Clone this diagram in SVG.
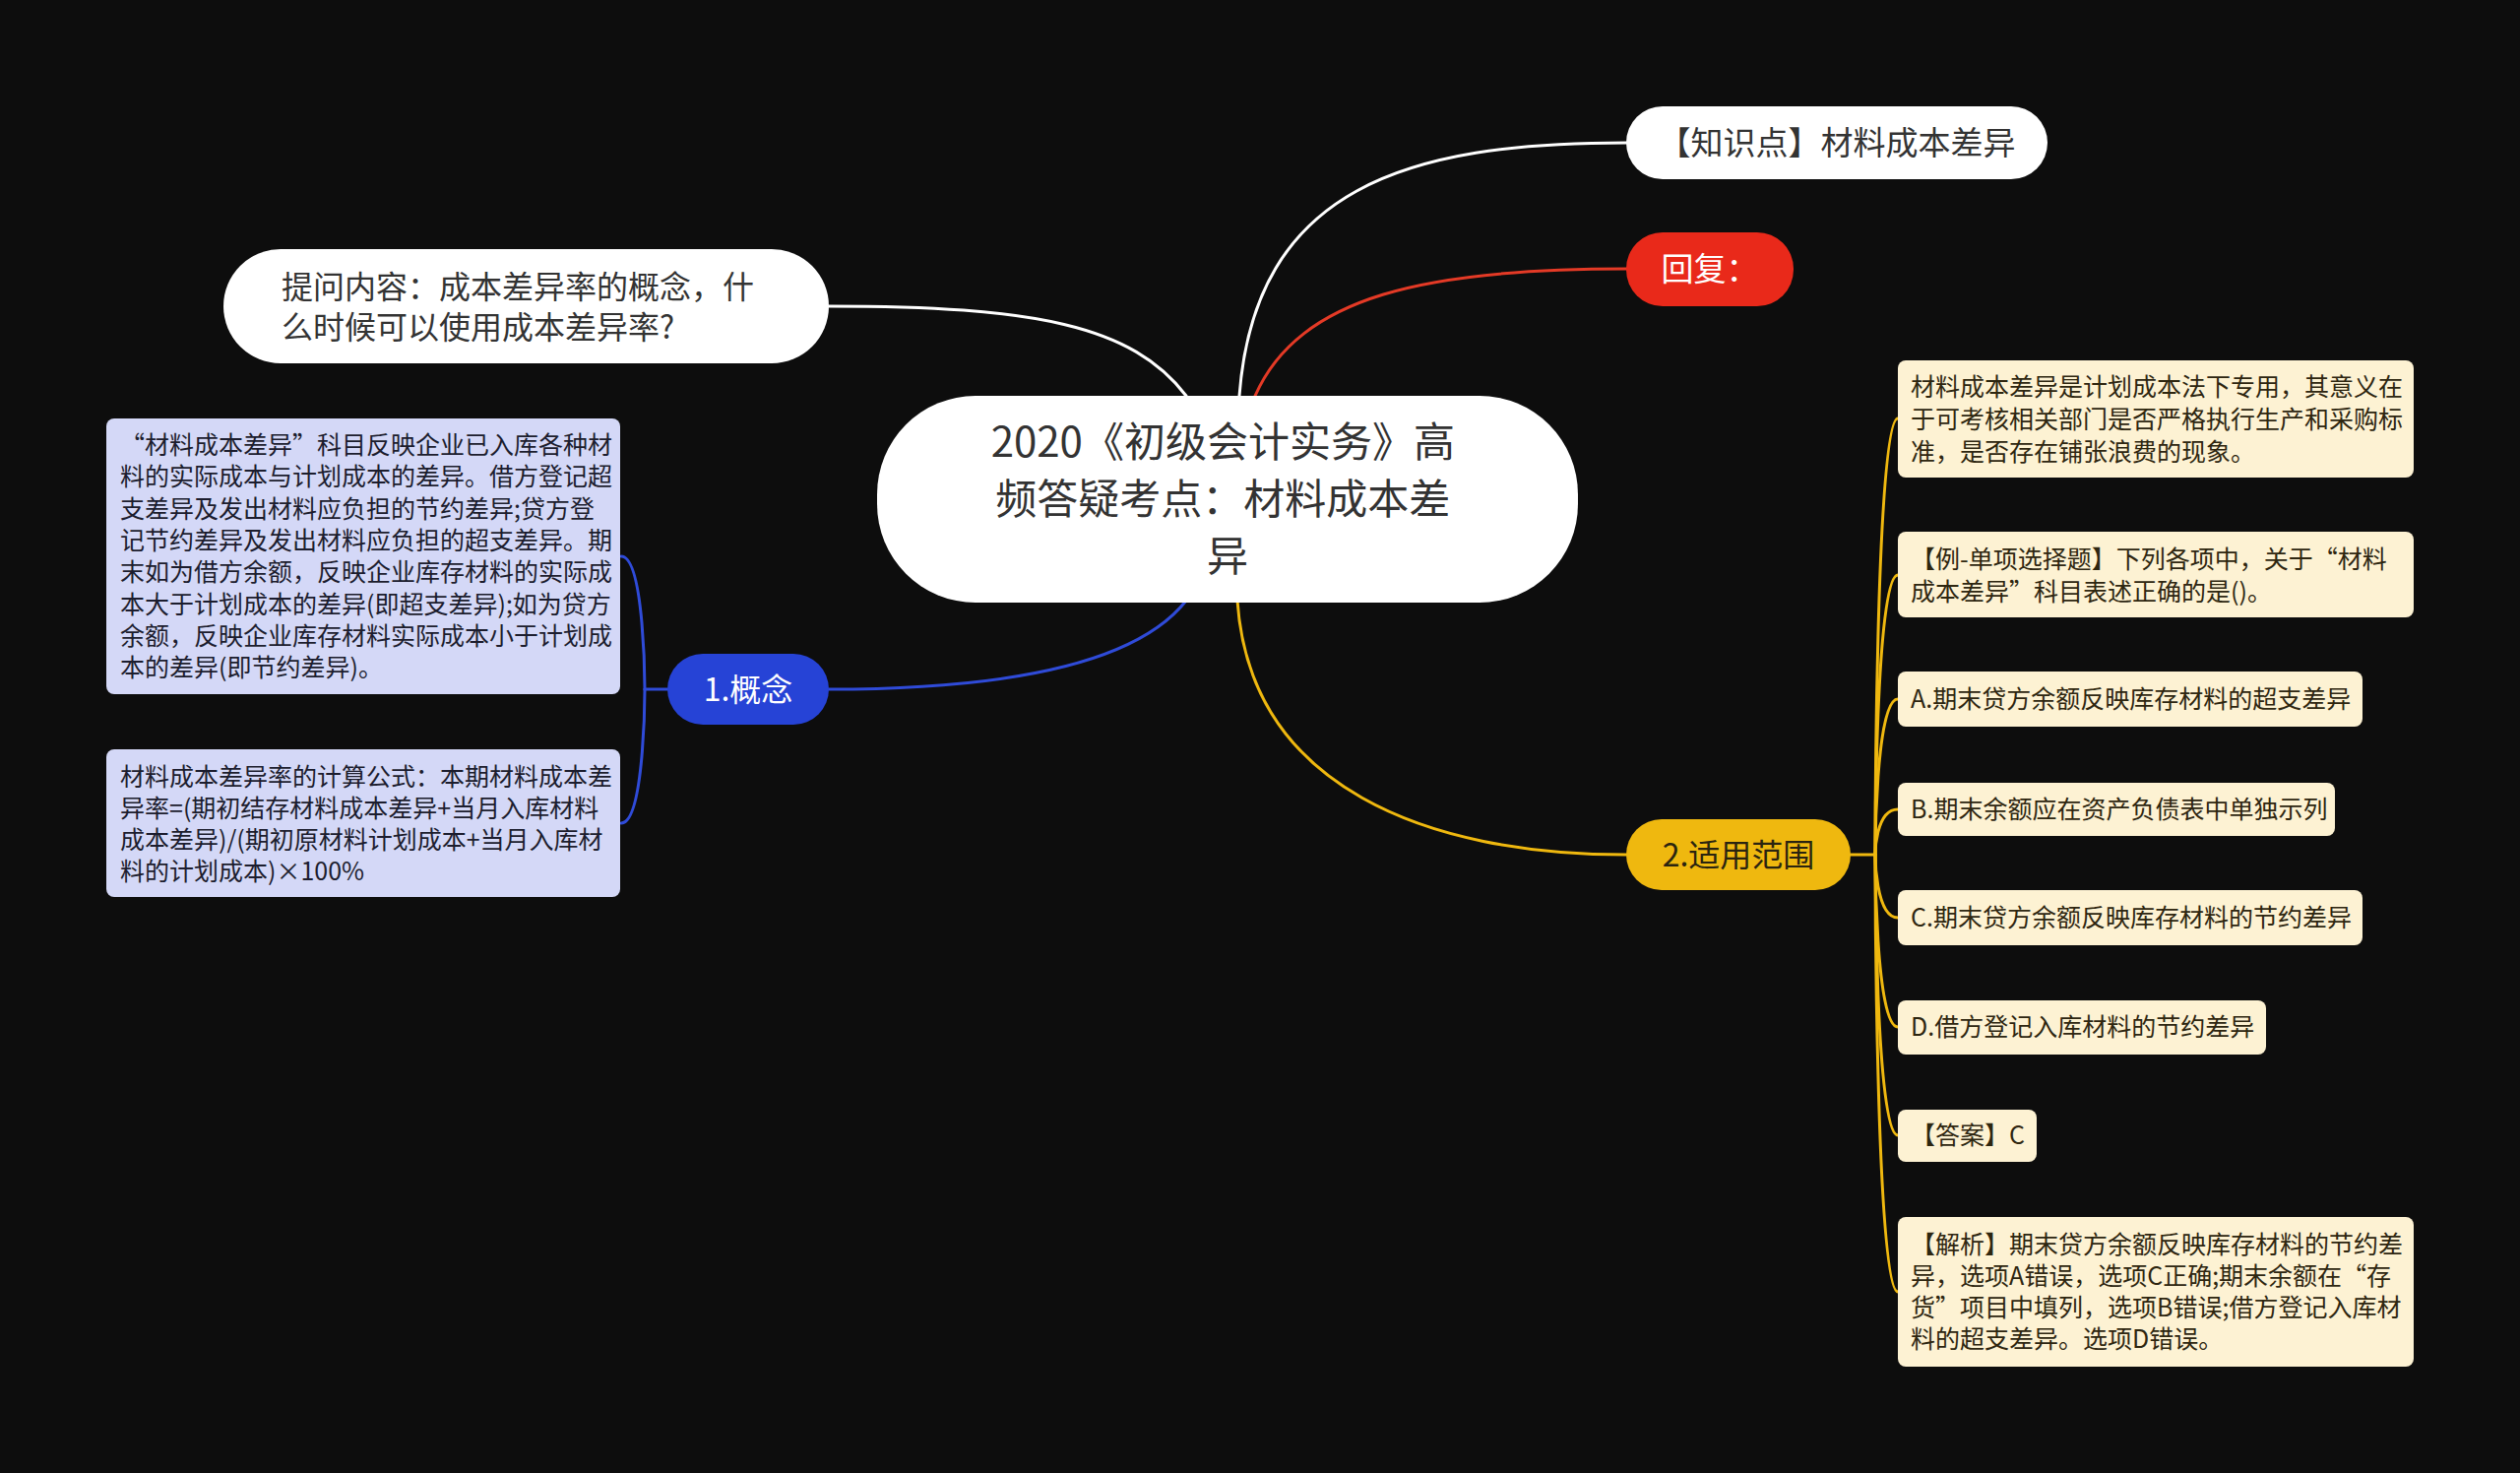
<svg xmlns="http://www.w3.org/2000/svg" width="2560" height="1496" viewBox="0 0 2560 1496">
<style>
text{font-family:"Noto Sans CJK SC","Noto Sans",sans-serif}
.c{fill:none;stroke-width:3;stroke-linecap:round}
.w{stroke:#ffffff}.r{stroke:#e43a26}.b{stroke:#2f4bd8}.y{stroke:#efb80f}
.lav{fill:#d4d8f7}.cream{fill:#fdf2d3}
.tl{font-size:25px;fill:#1c1d2e}
.tc{font-size:25px;fill:#2e2610}
</style>
<rect width="2560" height="1496" fill="#0d0d0d"/>
<g id="connectors">
<path class="c w" d="M1259,402 C1275,190 1430,145 1652,145"/>
<path class="c r" d="M1275,402 C1320,300 1450,273 1652,273"/>
<path class="c w" d="M842,311 C1050,311 1150,330 1205,402"/>
<path class="c b" d="M1205,610 C1150,680 1000,700 842,700"/>
<path class="c y" d="M1257,610 C1270,800 1450,868 1652,868"/>
<path class="c b" d="M678,700 L655,700"/>
<path class="c b" d="M655,700 C655,700 655,565 631,565"/>
<path class="c b" d="M655,700 C655,700 655,836 631,836"/>
<path class="c y" d="M1880,868 L1905,868"/>
<path class="c y" d="M1905,868 C1905,868 1905,425 1928,425"/>
<path class="c y" d="M1905,868 C1905,868 1905,584 1928,584"/>
<path class="c y" d="M1905,868 C1905,868 1905,710 1928,710"/>
<path class="c y" d="M1905,868 C1905,868 1905,822 1928,822"/>
<path class="c y" d="M1905,868 C1905,868 1905,932 1928,932"/>
<path class="c y" d="M1905,868 C1905,868 1905,1043 1928,1043"/>
<path class="c y" d="M1905,868 C1905,868 1905,1153 1928,1153"/>
<path class="c y" d="M1905,868 C1905,868 1905,1312 1928,1312"/>
</g>
<g id="center">
<rect x="891" y="402" width="712" height="210" rx="100" fill="#ffffff"/>
<text x="1247" y="464" font-size="42" fill="#333333" text-anchor="middle">
<tspan x="1247">2020《初级会计实务》高</tspan>
<tspan x="1247" dy="58">频答疑考点：材料成本差</tspan>
<tspan x="1247" dy="58">异</tspan>
</text>
</g>
<g id="n-zhishidian">
<rect x="1652" y="108" width="428" height="74" rx="37" fill="#ffffff"/>
<text x="1866" y="157" font-size="33" fill="#333333" text-anchor="middle">【知识点】材料成本差异</text>
</g>
<g id="n-huifu">
<rect x="1652" y="236" width="170" height="75" rx="37" fill="#e9291a"/>
<text x="1737" y="285" font-size="33" fill="#ffffff" text-anchor="middle">回复：</text>
</g>
<g id="n-tiwen">
<rect x="227" y="253" width="615" height="116" rx="58" fill="#ffffff"/>
<text x="286" y="303" font-size="32" fill="#333333">
<tspan x="286">提问内容：成本差异率的概念，什</tspan>
<tspan x="286" dy="41">么时候可以使用成本差异率?</tspan>
</text>
</g>
<g id="n-gainian">
<rect x="678" y="664" width="164" height="72" rx="36" fill="#2643d6"/>
<text x="760" y="712" font-size="32" fill="#ffffff" text-anchor="middle">1.概念</text>
</g>
<g id="n-gainian-1">
<rect class="lav" x="108" y="425" width="522" height="280" rx="8"/>
<text class="tl" x="122" y="461">
<tspan x="122">“材料成本差异”科目反映企业已入库各种材</tspan>
<tspan x="122" dy="32.3">料的实际成本与计划成本的差异。借方登记超</tspan>
<tspan x="122" dy="32.3">支差异及发出材料应负担的节约差异;贷方登</tspan>
<tspan x="122" dy="32.3">记节约差异及发出材料应负担的超支差异。期</tspan>
<tspan x="122" dy="32.3">末如为借方余额，反映企业库存材料的实际成</tspan>
<tspan x="122" dy="32.3">本大于计划成本的差异(即超支差异);如为贷方</tspan>
<tspan x="122" dy="32.3">余额，反映企业库存材料实际成本小于计划成</tspan>
<tspan x="122" dy="32.3">本的差异(即节约差异)。</tspan>
</text>
</g>
<g id="n-gainian-2">
<rect class="lav" x="108" y="761" width="522" height="150" rx="8"/>
<text class="tl" x="122" y="798">
<tspan x="122">材料成本差异率的计算公式：本期材料成本差</tspan>
<tspan x="122" dy="32">异率=(期初结存材料成本差异+当月入库材料</tspan>
<tspan x="122" dy="32">成本差异)/(期初原材料计划成本+当月入库材</tspan>
<tspan x="122" dy="32">料的计划成本)×100%</tspan>
</text>
</g>
<g id="n-fanwei">
<rect x="1652" y="832" width="228" height="72" rx="36" fill="#efb80f"/>
<text x="1766" y="880" font-size="32" fill="#2a2410" text-anchor="middle">2.适用范围</text>
</g>
<g id="n-fanwei-1">
<rect class="cream" x="1928" y="366" width="524" height="119" rx="8"/>
<text class="tc" x="1941" y="402">
<tspan x="1941">材料成本差异是计划成本法下专用，其意义在</tspan>
<tspan x="1941" dy="33">于可考核相关部门是否严格执行生产和采购标</tspan>
<tspan x="1941" dy="33">准，是否存在铺张浪费的现象。</tspan>
</text>
</g>
<g id="n-fanwei-2">
<rect class="cream" x="1928" y="540" width="524" height="87" rx="8"/>
<text class="tc" x="1941" y="577">
<tspan x="1941">【例-单项选择题】下列各项中，关于“材料</tspan>
<tspan x="1941" dy="33">成本差异”科目表述正确的是()。</tspan>
</text>
</g>
<g id="n-a">
<rect class="cream" x="1928" y="682" width="472" height="56" rx="8"/>
<text class="tc" x="1941" y="719">A.期末贷方余额反映库存材料的超支差异</text>
</g>
<g id="n-b">
<rect class="cream" x="1928" y="795" width="444" height="54" rx="8"/>
<text class="tc" x="1941" y="831">B.期末余额应在资产负债表中单独示列</text>
</g>
<g id="n-c">
<rect class="cream" x="1928" y="904" width="472" height="56" rx="8"/>
<text class="tc" x="1941" y="941">C.期末贷方余额反映库存材料的节约差异</text>
</g>
<g id="n-d">
<rect class="cream" x="1928" y="1016" width="374" height="55" rx="8"/>
<text class="tc" x="1941" y="1052">D.借方登记入库材料的节约差异</text>
</g>
<g id="n-answer">
<rect class="cream" x="1928" y="1127" width="141" height="53" rx="8"/>
<text class="tc" x="1941" y="1162">【答案】C</text>
</g>
<g id="n-jiexi">
<rect class="cream" x="1928" y="1236" width="524" height="152" rx="8"/>
<text class="tc" x="1941" y="1273">
<tspan x="1941">【解析】期末贷方余额反映库存材料的节约差</tspan>
<tspan x="1941" dy="32">异，选项A错误，选项C正确;期末余额在“存</tspan>
<tspan x="1941" dy="32">货”项目中填列，选项B错误;借方登记入库材</tspan>
<tspan x="1941" dy="32">料的超支差异。选项D错误。</tspan>
</text>
</g>
</svg>
